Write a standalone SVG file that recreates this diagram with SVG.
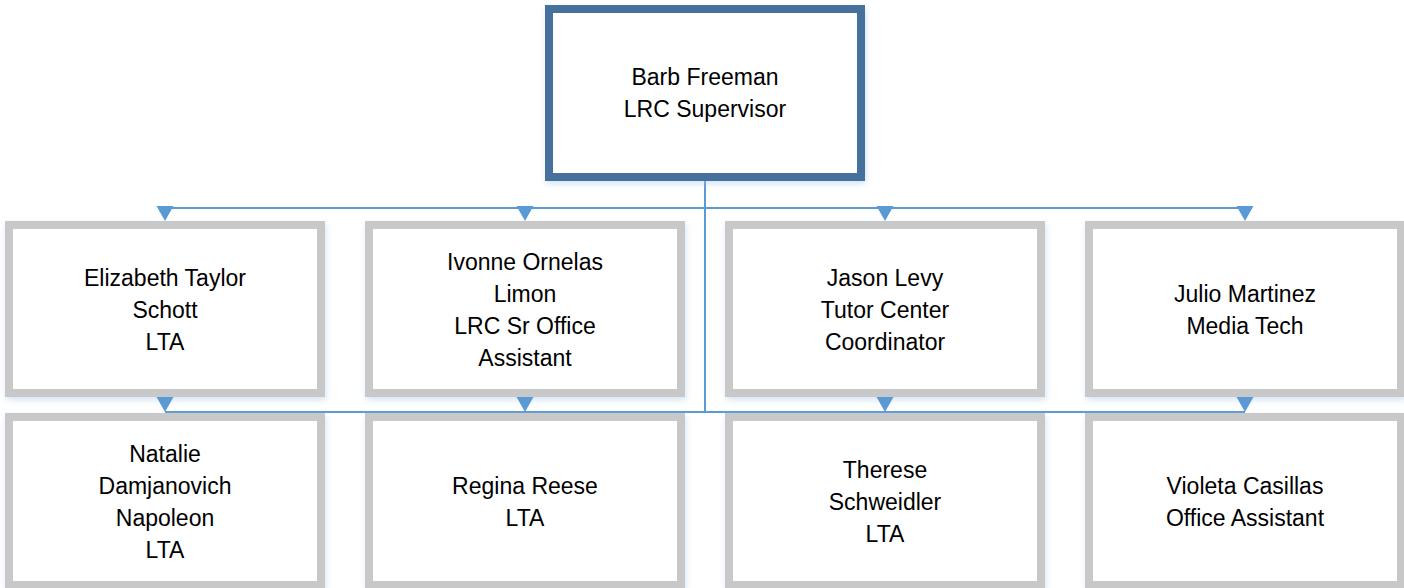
<svg xmlns="http://www.w3.org/2000/svg" width="1404" height="588" viewBox="0 0 1404 588">
<style>
.box{fill:#fff;stroke:#c8c8c8;stroke-width:8;filter:url(#sh)}
.top{fill:#fff;stroke:#44719c;stroke-width:8;filter:url(#sh)}
.t{font-family:"Liberation Sans",Arial,sans-serif;font-size:23px;fill:#000;text-anchor:middle}
.ln{stroke:#5b9bd5;stroke-width:2;fill:none}
.ar{fill:#5b9bd5}
</style>
<defs>
<filter id="sh" x="-10%" y="-10%" width="120%" height="125%">
<feDropShadow dx="1" dy="3" stdDeviation="3" flood-color="#9dc3e6" flood-opacity="0.45"/>
</filter>
</defs>
<rect width="1404" height="588" fill="#fff"/>
<g id="connectors">
<path class="ln" d="M705 181V412M165 208H1245M165 412H1245"/>
<path class="ar" d="M156.5 206h17l-8.5 15z M516.5 206h17l-8.5 15z M876.5 206h17l-8.5 15z M1236.5 206h17l-8.5 15z"/>
</g>
<g id="n-barb"><rect class="top" x="549" y="9" width="312" height="168"/>
<text class="t" x="705" y="85">Barb Freeman</text><text class="t" x="705" y="117">LRC Supervisor</text></g>
<g id="n-elizabeth"><rect class="box" x="9" y="225" width="312" height="168"/>
<text class="t" x="165" y="286">Elizabeth Taylor</text><text class="t" x="165" y="318">Schott</text><text class="t" x="165" y="350">LTA</text></g>
<g id="n-ivonne"><rect class="box" x="369" y="225" width="312" height="168"/>
<text class="t" x="525" y="270">Ivonne Ornelas</text><text class="t" x="525" y="302">Limon</text><text class="t" x="525" y="334">LRC Sr Office</text><text class="t" x="525" y="366">Assistant</text></g>
<g id="n-jason"><rect class="box" x="729" y="225" width="312" height="168"/>
<text class="t" x="885" y="286">Jason Levy</text><text class="t" x="885" y="318">Tutor Center</text><text class="t" x="885" y="350">Coordinator</text></g>
<g id="n-julio"><rect class="box" x="1089" y="225" width="312" height="168"/>
<text class="t" x="1245" y="302">Julio Martinez</text><text class="t" x="1245" y="334">Media Tech</text></g>
<g id="arrows2">
<path class="ar" d="M156.5 397h17l-8.5 15z M516.5 397h17l-8.5 15z M876.5 397h17l-8.5 15z M1236.5 397h17l-8.5 15z"/>
</g>
<g id="n-natalie"><rect class="box" x="9" y="417" width="312" height="168"/>
<text class="t" x="165" y="462">Natalie</text><text class="t" x="165" y="494">Damjanovich</text><text class="t" x="165" y="526">Napoleon</text><text class="t" x="165" y="558">LTA</text></g>
<g id="n-regina"><rect class="box" x="369" y="417" width="312" height="168"/>
<text class="t" x="525" y="494">Regina Reese</text><text class="t" x="525" y="526">LTA</text></g>
<g id="n-therese"><rect class="box" x="729" y="417" width="312" height="168"/>
<text class="t" x="885" y="478">Therese</text><text class="t" x="885" y="510">Schweidler</text><text class="t" x="885" y="542">LTA</text></g>
<g id="n-violeta"><rect class="box" x="1089" y="417" width="312" height="168"/>
<text class="t" x="1245" y="494">Violeta Casillas</text><text class="t" x="1245" y="526">Office Assistant</text></g>
</svg>
